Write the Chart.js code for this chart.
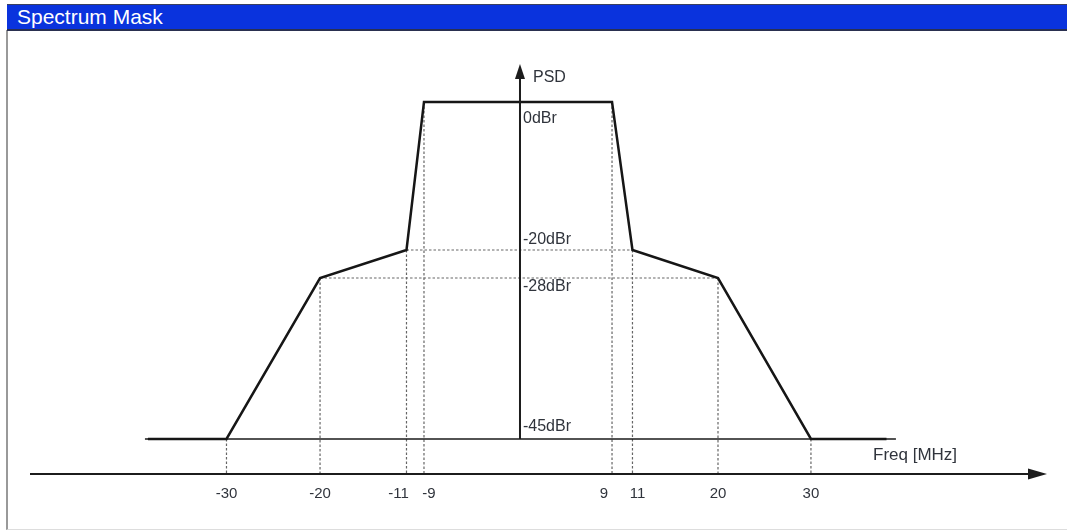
<!DOCTYPE html>
<html>
<head>
<meta charset="utf-8">
<title>Spectrum Mask</title>
<script src="https://cdn.jsdelivr.net/npm/chart.js@4.4.0/dist/chart.umd.min.js"></script>
<style>
  html, body { margin: 0; padding: 0; background: #fff; }
  #wrap { position: relative; width: 1067px; height: 531px; overflow: hidden; }
  #titleBar {
    position: absolute; left: 7px; top: 4px; width: 1060px; height: 27px;
    box-sizing: border-box; padding-left: 10px;
    background: #0a33dd; border-top: 1px solid #3a4060; border-bottom: 2px solid #2a3050;
    color: #fff; font: 21px "Liberation Sans", Arial, sans-serif; line-height: 24px;
    z-index: 2;
  }
  #panel {
    position: absolute; left: 6px; top: 30px; width: 1061px; height: 499px;
    border-left: 2px solid #999; border-bottom: 1px solid #ddd;
  }
  canvas { position: absolute; left: 0; top: 0; z-index: 1; }
</style>
</head>
<body>
<div id="wrap">
  <div id="titleBar">Spectrum Mask</div>
  <div id="panel"></div>
  <canvas id="chart" width="1067" height="531"></canvas>
</div>
<script>
// mask corners: frequency offset in MHz, level in dBr
const maskFreq  = [-38, -30, -20, -11, -9, 9, 11, 20, 30, 38];
const maskLevel = [-45, -45, -28, -20,  0, 0, -20, -28, -45, -45];

// frequencies marked on the x axis
const tickFreq = [-30, -20, -11, -9, 9, 11, 20, 30];

// levels marked next to the PSD axis
const levelMarks = [0, -20, -28, -45];

// levels that get a dashed guide across the mask
const guideLevels = [-20, -28];

// thin -45 dBr floor line
const floorFreq = [-38.3, 39];

const FONT = '"Liberation Sans", Arial, sans-serif';
const TEXT = '#30343c';

// The drawing is a schematic, not to scale: this scale maps values
// piecewise between fixed points along the axis (fraction from min end)
class StopScale extends Chart.LinearScale {
    static id = 'stops';
    static defaults = {};

    _frac(v) {
        const s = this.options.stops;
        if (v <= s[0][0]) return s[0][1];
        for (let i = 1; i < s.length; i++) {
            if (v <= s[i][0]) {
                const [v0, f0] = s[i - 1];
                const [v1, f1] = s[i];
                return f0 + (v - v0) / (v1 - v0) * (f1 - f0);
            }
        }
        return s[s.length - 1][1];
    }

    getPixelForValue(v) {
        const f = this._frac(v);
        return this.isHorizontal() ? this.left + f * this.width : this.bottom - f * this.height;
    }

    getValueForPixel(p) {
        const f = this.isHorizontal() ? (p - this.left) / this.width : (this.bottom - p) / this.height;
        const s = this.options.stops;
        for (let i = 1; i < s.length; i++) {
            if (f <= s[i][1]) {
                const [v0, f0] = s[i - 1];
                const [v1, f1] = s[i];
                return v0 + (f - f0) / (f1 - f0) * (v1 - v0);
            }
        }
        return s[s.length - 1][0];
    }
}
Chart.register(StopScale);

function levelAt(freq) {
    return maskLevel[maskFreq.indexOf(freq)];
}

const maskData = maskFreq.map((f, i) => ({ x: f, y: maskLevel[i] }));

const guideStyle = {
    borderColor: '#666',
    borderWidth: 1.2,
    borderDash: [2.5, 2],
    pointRadius: 0,
    fill: false,
    order: 3
};

// horizontal dashed guides between the mask corners at that level
const hGuides = guideLevels.map(level => {
    const xs = maskFreq.filter((f, i) => maskLevel[i] === level);
    return Object.assign({
        data: [{ x: Math.min(...xs), y: level }, { x: Math.max(...xs), y: level }]
    }, guideStyle);
});

// vertical dashed guides from each marked corner down to the freq axis
const vGuides = tickFreq.map(f => Object.assign({
    data: [{ x: f, y: levelAt(f) }, { x: f, y: -50 }]
}, guideStyle));

// arrows, axis text and level labels
const axesPlugin = {
    id: 'axesPlugin',
    afterDatasetsDraw(chart) {
        const { ctx, scales: { x, y } } = chart;
        const x0 = x.getPixelForValue(0);
        const yAxis = y.getPixelForValue(-50);
        const xEnd = x.getPixelForValue(x.max);
        const yTop = y.getPixelForValue(y.max);

        ctx.save();
        ctx.strokeStyle = '#1c1c1c';
        ctx.fillStyle = '#1c1c1c';
        ctx.lineWidth = 2;

        // freq axis with arrow
        ctx.beginPath();
        ctx.moveTo(x.getPixelForValue(x.min), yAxis);
        ctx.lineTo(xEnd - 10, yAxis);
        ctx.stroke();
        ctx.beginPath();
        ctx.moveTo(xEnd, yAxis);
        ctx.lineTo(xEnd - 19, yAxis - 5.5);
        ctx.lineTo(xEnd - 19, yAxis + 5.5);
        ctx.closePath();
        ctx.fill();

        // PSD axis with arrow
        ctx.beginPath();
        ctx.moveTo(x0, y.getPixelForValue(-45));
        ctx.lineTo(x0, yTop + 8);
        ctx.stroke();
        ctx.beginPath();
        ctx.moveTo(x0, yTop);
        ctx.lineTo(x0 - 5, yTop + 15);
        ctx.lineTo(x0 + 5, yTop + 15);
        ctx.closePath();
        ctx.fill();

        ctx.fillStyle = TEXT;
        ctx.textBaseline = 'middle';
        ctx.font = '16px ' + FONT;
        ctx.textAlign = 'left';
        ctx.fillText('PSD', x0 + 13, yTop + 14);
        ctx.font = '17px ' + FONT;
        ctx.fillText('Freq [MHz]', xEnd - 174, yAxis - 19);

        // level labels, alternately just below / above their line
        const levelDy = [17, -10, 9, -12];
        ctx.font = '16px ' + FONT;
        levelMarks.forEach((lv, i) => {
            ctx.fillText(lv + 'dBr', x0 + 3, y.getPixelForValue(lv) + levelDy[i]);
        });

        // freq tick labels, nudged apart where two ticks are close
        ctx.textAlign = 'center';
        ctx.font = '15px ' + FONT;
        tickFreq.forEach((f, i) => {
            let px = x.getPixelForValue(f);
            const prev = tickFreq[i - 1], next = tickFreq[i + 1];
            if (next !== undefined && next - f <= 3) px -= 8;
            if (prev !== undefined && f - prev <= 3) px += 5;
            ctx.fillText(String(f), px, yAxis + 20);
        });
        ctx.restore();
    }
};

new Chart(document.getElementById('chart'), {
    type: 'line',
    data: {
        datasets: [
            {
                data: maskData,
                borderColor: '#161616',
                borderWidth: 2.5,
                pointRadius: 0,
                tension: 0,
                fill: false,
                order: 1
            },
            {
                data: floorFreq.map(f => ({ x: f, y: -45 })),
                borderColor: '#1a1a1a',
                borderWidth: 1.5,
                pointRadius: 0,
                fill: false,
                order: 2
            },
            ...hGuides,
            ...vGuides
        ]
    },
    options: {
        responsive: false,
        animation: false,
        events: [],
        devicePixelRatio: 1,
        layout: { padding: { left: 30, right: 20, top: 64, bottom: 57 } },
        plugins: {
            legend: { display: false },
            tooltip: { enabled: false },
            title: { display: false }
        },
        scales: {
            x: {
                type: 'stops',
                display: false,
                min: -50,
                max: 55,
                stops: [[-50, 0], [-30, 0.1932], [-20, 0.2852], [-11, 0.3702], [-9, 0.3874],
                        [0, 0.4818], [9, 0.5723], [11, 0.5924], [20, 0.6765], [30, 0.7679], [55, 1]]
            },
            y: {
                type: 'stops',
                display: false,
                min: -50,
                max: 8,
                stops: [[-50, 0], [-45, 0.0854], [-28, 0.478], [-20, 0.5463], [0, 0.9073], [8, 1]]
            }
        }
    },
    plugins: [axesPlugin]
});
</script>
</body>
</html>
